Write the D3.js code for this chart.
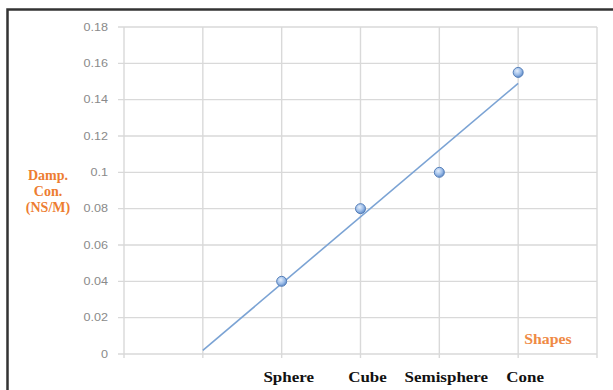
<!DOCTYPE html>
<html><head><meta charset="utf-8">
<script src="https://cdn.jsdelivr.net/npm/d3@7"></script>
<style>body{margin:0;background:#fff}svg{display:block}</style>
</head><body>
<svg id="c" width="613" height="390"></svg>
<script>
const categories = ["Sphere", "Cube", "Semisphere", "Cone"];
const xPositions = [2, 3, 4, 5];
const values = [0.04, 0.08, 0.10, 0.155];
const yTicks = [0, 0.02, 0.04, 0.06, 0.08, 0.1, 0.12, 0.14, 0.16, 0.18];
const xGrid = [0, 1, 2, 3, 4, 5, 6];
const trendX = [1, 5];
const trendY = [0.002, 0.149];
const yTitle = ["Damp.", "Con.", "(NS/M)"];
const xTitle = "Shapes";

const svg = d3.select("#c");
const x = d3.scaleLinear().domain([0, 6]).range([124, 597]);
const y = d3.scaleLinear().domain([0, 0.18]).range([354, 27]);
const serif = "Liberation Serif, Times New Roman, serif";

// frame
svg.append("rect").attr("x", 7.5).attr("y", 9.5).attr("width", 640).attr("height", 420)
  .attr("fill", "none").attr("stroke", "#333").attr("stroke-width", 2.5);

const grid = svg.append("g").attr("stroke", "#d9d9d9").attr("stroke-width", 1.4);
grid.selectAll("line.h").data(yTicks).join("line")
  .attr("x1", x(0) - 6).attr("x2", x(6)).attr("y1", d => y(d)).attr("y2", d => y(d));
grid.selectAll("line.v").data(xGrid).join("line")
  .attr("x1", d => x(d)).attr("x2", d => x(d)).attr("y1", y(0.18)).attr("y2", y(0) + 4);

// y axis labels
const fmt = d => d === 0 ? "0" : String(+d.toFixed(2));
svg.append("g").selectAll("text").data(yTicks).join("text")
  .attr("transform", d => `translate(${x(0) - 16},${y(d)}) scale(1.2,1)`)
  .attr("dy", "0.35em")
  .attr("text-anchor", "end").attr("font-family", "Liberation Sans, Arial, sans-serif")
  .attr("font-size", 10.5).attr("fill", "#8a8a8a").text(fmt);

// trendline
svg.append("path").datum(d3.zip(trendX, trendY))
  .attr("d", d3.line().x(d => x(d[0])).y(d => y(d[1])))
  .attr("fill", "none").attr("stroke", "#7ba3d4").attr("stroke-width", 1.6);

// markers
const defs = svg.append("defs");
const grad = defs.append("radialGradient").attr("id", "mg").attr("cx", "40%").attr("cy", "35%").attr("r", "65%");
grad.append("stop").attr("offset", "0%").attr("stop-color", "#e4eefb");
grad.append("stop").attr("offset", "60%").attr("stop-color", "#9dbde8");
grad.append("stop").attr("offset", "100%").attr("stop-color", "#5f8bc8");
svg.append("g").selectAll("circle").data(values).join("circle")
  .attr("cx", (d, i) => x(xPositions[i])).attr("cy", d => y(d)).attr("r", 5)
  .attr("fill", "url(#mg)").attr("stroke", "#557fb9").attr("stroke-width", 1);

// category labels
svg.append("g").selectAll("text").data(categories).join("text")
  .attr("transform", (d, i) => `translate(${x(xPositions[i]) + 7},382) scale(1.13,1)`)
  .attr("text-anchor", "middle").attr("font-family", serif)
  .attr("font-weight", "bold").attr("font-size", 15).attr("fill", "#111").text(d => d);

// axis titles
svg.append("g").selectAll("text").data(yTitle).join("text")
  .attr("x", 48).attr("y", (d, i) => 180 + i * 16)
  .attr("text-anchor", "middle").attr("font-family", serif)
  .attr("font-weight", "bold").attr("font-size", 14).attr("fill", "#ed7d31").text(d => d);
svg.append("text").attr("transform", "translate(548,344) scale(1.13,1)").attr("text-anchor", "middle")
  .attr("font-family", serif)
  .attr("font-weight", "bold").attr("font-size", 14).attr("fill", "#ef8a45").text(xTitle);
</script>
</body></html>
